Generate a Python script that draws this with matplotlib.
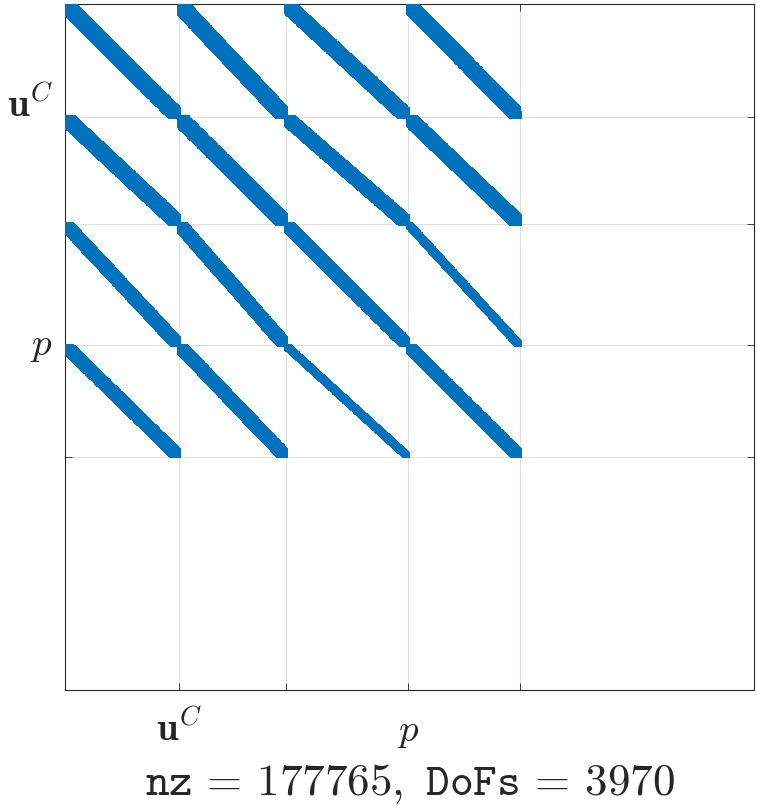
import numpy as np
import matplotlib
matplotlib.use('Agg')
import matplotlib.pyplot as plt

plt.rcParams['mathtext.fontset'] = 'cm'

# sizes (DoFs) of the four field blocks, same ordering for rows and columns
block_sizes = [656, 616, 704, 644]
n_dofs = 3970
nnz = 177765
# width (in DoFs) of the diagonal band inside each block [row block][col block]
band_width = [[100, 100, 98, 94],
              [100, 100, 94, 94],
              [76, 76, 76, 34],
              [76, 76, 34, 74]]
tick_labels = [r'$\mathbf{u}^C$', '', r'$p$', '']

offsets = np.concatenate([[0], np.cumsum(block_sizes)])

# build the sparsity pattern block by block
step = 2
rows_all, cols_all = [], []
for i in range(4):
    for j in range(4):
        nr, nc = block_sizes[i], block_sizes[j]
        r = np.arange(0, nr, step)
        hw = band_width[i][j] / 2
        d = np.arange(-hw, hw + 1, step)
        rr, dd = np.meshgrid(r, d)
        cc = np.round(rr * (nc - 1) / (nr - 1) + dd)
        keep = (cc >= 0) & (cc < nc)
        rows_all.append(offsets[i] + rr[keep] + 1)
        cols_all.append(offsets[j] + cc[keep] + 1)
rows_all = np.concatenate(rows_all)
cols_all = np.concatenate(cols_all)

fig = plt.figure(figsize=(7.57, 8.07), dpi=100)
ax = fig.add_axes([65 / 757, 1 - 690 / 807, 689 / 757, 686 / 807])
ax.scatter(cols_all, rows_all, s=3.5 ** 2, marker='s', linewidths=0,
           color='#0072BD', zorder=3)

ax.set_xlim(0, n_dofs + 1)
ax.set_ylim(n_dofs + 1, 0)

ticks = offsets[1:]
ax.set_xticks(ticks)
ax.set_xticklabels(tick_labels, fontsize=28)
ax.set_yticks(ticks)
ax.set_yticklabels(tick_labels, fontsize=28)

ax.grid(True, color='#dfdfdf', lw=0.8)
ax.set_axisbelow(True)
ax.tick_params(direction='in', length=5, width=0.6, top=True, right=True,
               color='#262626', labelcolor='#262626')
ax.tick_params(axis='x', pad=37)
ax.tick_params(axis='y', pad=9)
for s in ax.spines.values():
    s.set_color('#262626')
    s.set_linewidth(0.8)

for lbl in ax.get_xticklabels():
    lbl.set_va('baseline')
ylbls = ax.get_yticklabels()
ylbls[0].set_va('baseline')
ylbls[2].set_va('center')

ax.set_xlabel(r'$\mathtt{nz}\,=\,%d,\ \mathtt{DoFs}\,=\,%d$' % (nnz, n_dofs),
              fontsize=32.5, color='#262626')
ax.xaxis.set_label_coords(0.5, (690 - 795) / 686)
ax.xaxis.label.set_va('baseline')

fig.savefig('out.png', dpi=100)
